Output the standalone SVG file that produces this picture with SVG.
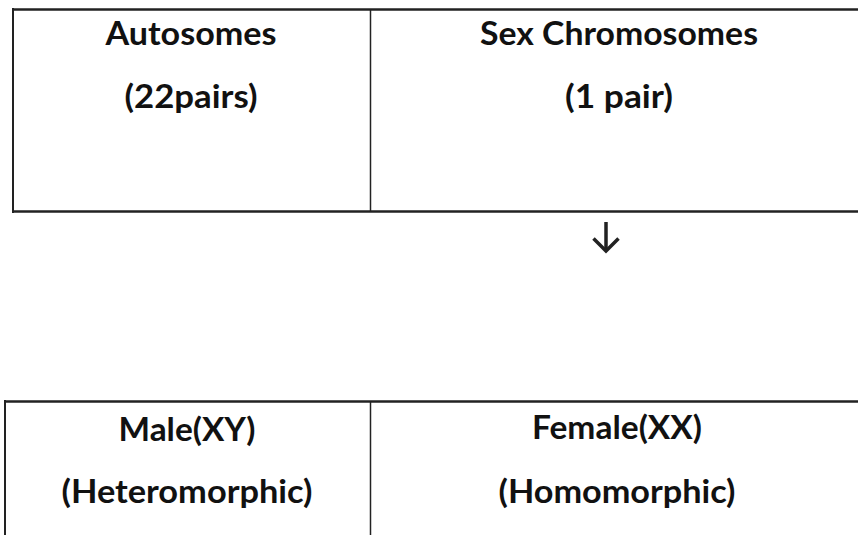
<svg xmlns="http://www.w3.org/2000/svg" width="858" height="535" viewBox="0 0 858 535">
<style>
.t{font-family:"Lato","Open Sans","Liberation Sans",sans-serif;font-weight:bold;font-size:32px;fill:#111;text-anchor:middle}
.b{stroke:#222;fill:none}
</style>
<rect width="858" height="535" fill="#fff"/>
<g id="top-table">
<line class="b" x1="12" y1="9.5" x2="858" y2="9.5" stroke-width="2.5"/>
<line class="b" x1="12" y1="211.5" x2="858" y2="211.5" stroke-width="2.5"/>
<line class="b" x1="13" y1="8" x2="13" y2="213" stroke-width="2"/>
<line class="b" x1="370.5" y1="9" x2="370.5" y2="212" stroke-width="1.5"/>
</g>
<g id="autosomes">
<text class="t" x="191" y="45" textLength="171" lengthAdjust="spacingAndGlyphs">Autosomes</text>
<text class="t" x="191" y="108" textLength="133" lengthAdjust="spacingAndGlyphs">(22pairs)</text>
</g>
<g id="sex-chromosomes">
<text class="t" x="619" y="45" textLength="278" lengthAdjust="spacingAndGlyphs">Sex Chromosomes</text>
<text class="t" x="619" y="108" textLength="108" lengthAdjust="spacingAndGlyphs">(1 pair)</text>
</g>
<g id="connectors">
<line class="b" x1="606" y1="222" x2="606" y2="251" stroke-width="3.5"/>
<polyline class="b" points="593.5,238.5 606,251 618.5,238.5" stroke-width="3.5"/>
</g>
<g id="bottom-table">
<line class="b" x1="4" y1="401.5" x2="858" y2="401.5" stroke-width="2.5"/>
<line class="b" x1="5" y1="400" x2="5" y2="535" stroke-width="2"/>
<line class="b" x1="370.5" y1="401" x2="370.5" y2="535" stroke-width="1.5"/>
</g>
<g id="male">
<text class="t" x="187" y="441" textLength="137" lengthAdjust="spacingAndGlyphs">Male(XY)</text>
<text class="t" x="187" y="503" textLength="251" lengthAdjust="spacingAndGlyphs">(Heteromorphic)</text>
</g>
<g id="female">
<text class="t" x="617" y="439" textLength="170" lengthAdjust="spacingAndGlyphs">Female(XX)</text>
<text class="t" x="617" y="503" textLength="237" lengthAdjust="spacingAndGlyphs">(Homomorphic)</text>
</g>
</svg>
